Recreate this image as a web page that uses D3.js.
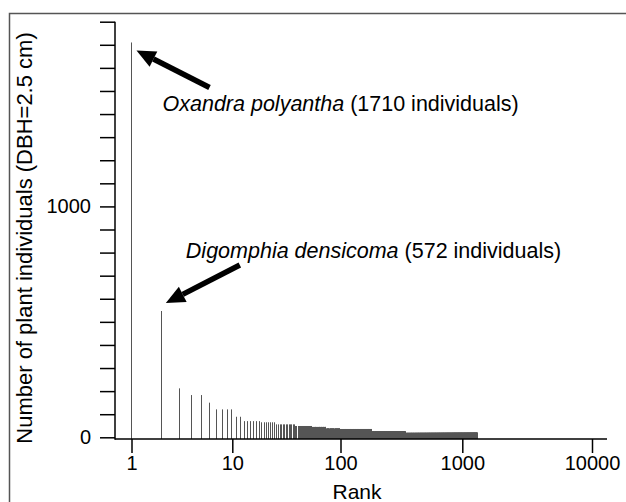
<!DOCTYPE html>
<html>
<head>
<meta charset="utf-8">
<script src="https://cdn.jsdelivr.net/npm/d3@7"></script>
<style>
  body { margin: 0; background: #fff; }
  text { font-family: "Liberation Sans", Arial, sans-serif; fill: #000; }
</style>
</head>
<body>
<script>
// first ten ranks, one count per species
const TOP_COUNTS = [1710, 547, 212, 183, 183, 150, 121, 121, 121, 121];
// rest of the curve: count level and how many species share it
const TAIL_COUNTS = [89, 70, 65, 56, 49, 45, 39, 36, 26, 19];
const TAIL_SPECIES = [2, 6, 7, 13, 17, 19, 25, 83, 161, 977];

const X_TICKS = [1, 10, 100, 1000, 10000];
const Y_TICKS = [0, 100, 200, 300, 400, 500, 600, 700, 800, 900, 1000,
  1100, 1200, 1300, 1400, 1500, 1600, 1700, 1800];
const Y_LABELS = [0, 1000];

const NOTES = [
  { rank: 1, count: 1710, name: "Oxandra polyantha", label: " (1710 individuals)" },
  { rank: 2, count: 547, name: "Digomphia densicoma", label: " (572 individuals)" }
];

const width = 626;
const height = 502;

// expand into one row per species
let data = TOP_COUNTS.map(function (v, i) { return { rank: i + 1, value: v }; });
TAIL_COUNTS.forEach(function (v, j) {
  for (let k = 0; k < TAIL_SPECIES[j]; k++) {
    data.push({ rank: data.length + 1, value: v });
  }
});

// log axis, decades are not evenly spaced in the original
const x = d3.scaleLog()
  .domain(X_TICKS)
  .range([131.5, 232.3, 340.5, 462.3, 592]);

const y = d3.scaleLinear()
  .domain([0, 1800])
  .range([437.3, 21.7]);

const axisY = 439;
const axisX = 115;

let svg = d3.select("body").append("svg")
  .attr("width", width)
  .attr("height", height);

// frame (top and left edges only show)
svg.append("path")
  .attr("d", "M9.5,502 L9.5,13.5 L626,13.5")
  .attr("fill", "none")
  .attr("stroke", "#555")
  .attr("stroke-width", 1.5);

// bars
svg.append("g")
  .selectAll("line")
  .data(data)
  .enter()
    .append("line")
    .attr("x1", function (d) { return Math.round(x(d.rank)) - 0.5; })
    .attr("x2", function (d) { return Math.round(x(d.rank)) - 0.5; })
    .attr("y1", axisY)
    .attr("y2", function (d) { return y(d.value); })
    .attr("stroke", "#555")
    .attr("stroke-width", 1);

// y axis
let gy = svg.append("g")
  .attr("transform", "translate(" + axisX + ",0)")
  .call(d3.axisLeft(y)
    .tickValues(Y_TICKS)
    .tickSize(15)
    .tickSizeOuter(0)
    .tickPadding(9)
    .tickFormat(function (d) { return Y_LABELS.includes(d) ? d : ""; }));
gy.select(".domain").remove();
gy.selectAll("line").attr("stroke", "#000").attr("stroke-width", 1.5);
gy.selectAll("text").attr("font-size", "20px").attr("font-family", "Liberation Sans, Arial, sans-serif");

svg.append("line")
  .attr("x1", axisX).attr("x2", axisX)
  .attr("y1", y(1800)).attr("y2", axisY + 0.75)
  .attr("stroke", "#000").attr("stroke-width", 1.5);

// x axis
let gx = svg.append("g")
  .attr("transform", "translate(0," + axisY + ")")
  .call(d3.axisBottom(x)
    .tickValues(X_TICKS)
    .tickSize(14)
    .tickSizeOuter(0)
    .tickPadding(3)
    .tickFormat(d3.format("d")));
gx.select(".domain").remove();
gx.selectAll("line").attr("stroke", "#000").attr("stroke-width", 1.5);
gx.selectAll("text").attr("font-size", "20px").attr("font-family", "Liberation Sans, Arial, sans-serif");

svg.append("line")
  .attr("x1", axisX).attr("x2", 607)
  .attr("y1", axisY).attr("y2", axisY)
  .attr("stroke", "#000").attr("stroke-width", 1.5);

// axis titles
svg.append("text")
  .attr("x", 357)
  .attr("y", 499)
  .attr("text-anchor", "middle")
  .attr("font-size", "21px")
  .text("Rank");

svg.append("text")
  .attr("transform", "translate(32,238) rotate(-90)")
  .attr("text-anchor", "middle")
  .attr("font-size", "22px")
  .text("Number of plant individuals (DBH=2.5 cm)");

// annotations: arrow tip sits near the bar top, text beside the tail
const tips = [[5, 8], [4, -8]];
const tails = [[73, 37], [74, -38]];
const labels = [[26, 61], [20, -45]];

function arrow(x0, y0, x1, y1) {
  // shaft from (x0,y0) to tip (x1,y1), filled head
  let a = Math.atan2(y1 - y0, x1 - x0);
  let hl = 19, hw = 8.5;
  let bx = x1 - hl * Math.cos(a), by = y1 - hl * Math.sin(a);
  let px = -Math.sin(a), py = Math.cos(a);
  svg.append("line")
    .attr("x1", x0).attr("y1", y0).attr("x2", bx).attr("y2", by)
    .attr("stroke", "#000").attr("stroke-width", 5.5);
  svg.append("path")
    .attr("d", "M" + x1 + "," + y1 +
      "L" + (bx + px * hw) + "," + (by + py * hw) +
      "L" + (bx - px * hw) + "," + (by - py * hw) + "Z")
    .attr("fill", "#000");
}

NOTES.forEach(function (n, i) {
  let tx = x(n.rank) + tips[i][0];
  let ty = y(n.count) + tips[i][1];
  arrow(tx + tails[i][0], ty + tails[i][1], tx, ty);
  let t = svg.append("text")
    .attr("x", tx + labels[i][0])
    .attr("y", ty + labels[i][1])
    .attr("font-size", "21.5px");
  t.append("tspan").attr("font-style", "italic").text(n.name);
  t.append("tspan").text(n.label);
});
</script>
</body>
</html>
